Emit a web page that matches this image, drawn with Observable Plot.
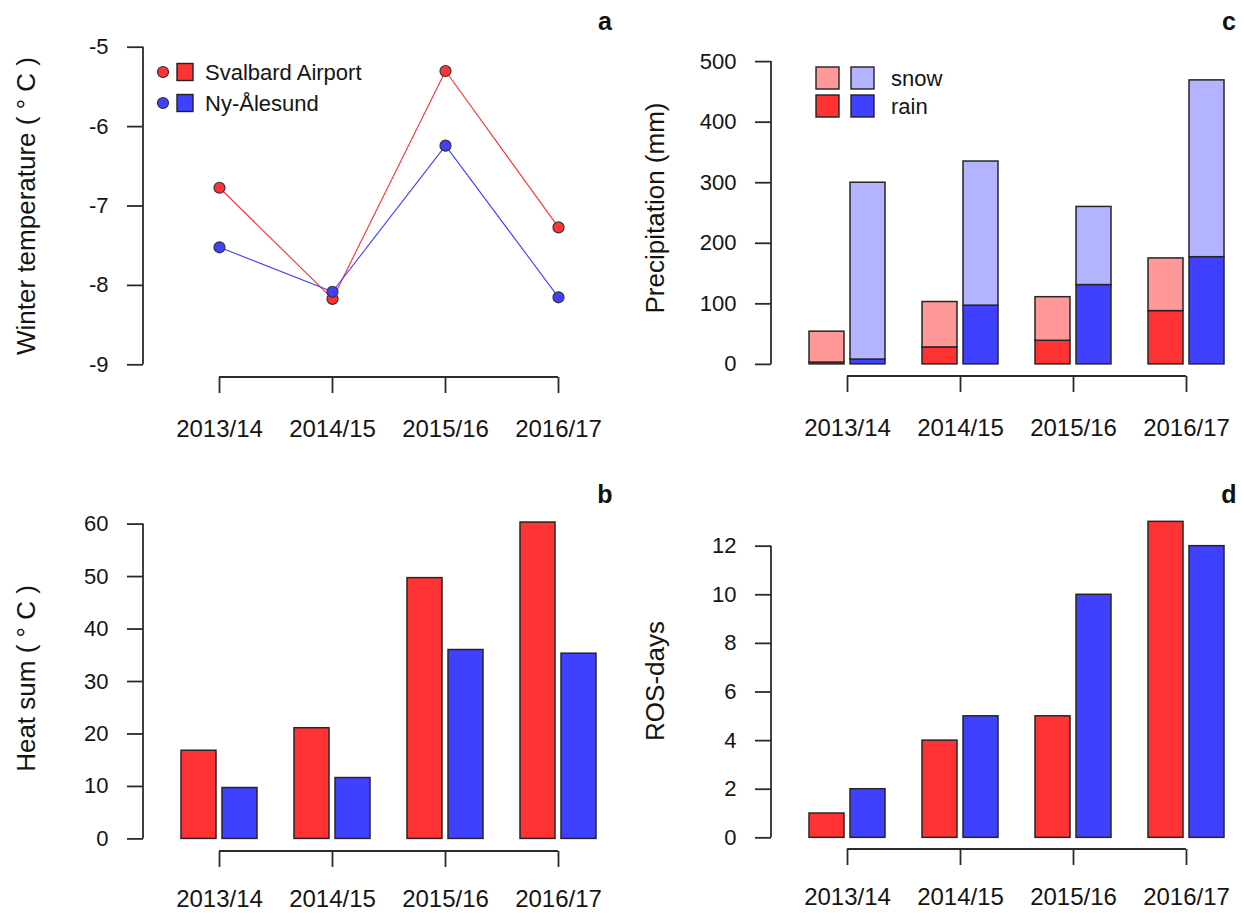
<!DOCTYPE html>
<html>
<head>
<meta charset="utf-8">
<script src="https://cdn.jsdelivr.net/npm/d3@7"></script>
<script src="https://cdn.jsdelivr.net/npm/@observablehq/plot@0.6"></script>
<style>
  html, body { margin: 0; padding: 0; background: #fff; }
  #wrap { position: relative; width: 1244px; height: 913px; overflow: hidden; font-family: "Liberation Sans", Arial, sans-serif; }
  #wrap > * { position: absolute; }
</style>
</head>
<body>
<div id="wrap"></div>
<script>
// ---------------- data ----------------
const seasons = ["2013/14", "2014/15", "2015/16", "2016/17"];
const stations = ["Svalbard Airport", "Ny-Ålesund"];
const precipTypes = ["snow", "rain"];

const tempSvalbard = [-6.77, -8.17, -5.30, -7.27];
const tempNyAlesund = [-7.52, -8.08, -6.24, -8.15];

const heatSvalbard = [16.8, 21.1, 49.7, 60.3];
const heatNyAlesund = [9.7, 11.6, 36.0, 35.3];

const rainSvalbard = [3, 28, 39, 88];
const snowSvalbard = [51, 75, 72, 87];
const rainNyAlesund = [8, 97, 131, 177];
const snowNyAlesund = [292, 238, 129, 292];

const rosSvalbard = [1, 4, 5, 13];
const rosNyAlesund = [2, 5, 10, 12];

const tempTicks = [-9, -8, -7, -6, -5];
const heatTicks = [0, 10, 20, 30, 40, 50, 60];
const precipTicks = [0, 100, 200, 300, 400, 500];
const rosTicks = [0, 2, 4, 6, 8, 10, 12];

const titles = {
  a: "Winter temperature ( ° C )",
  b: "Heat sum ( ° C )",
  c: "Precipitation (mm)",
  d: "ROS-days"
};

// ---------------- style ----------------
const red = "#ff3333", blue = "#4040ff", lightRed = "#ff9999", lightBlue = "#b3b3ff";
const AX = "#2b2b2b", TXT = "#141414", BAR_STROKE = "#262626";
const FONT = "Liberation Sans, Arial, sans-serif";
const W = 622;
const STEP = 113.3;

const wrap = document.getElementById("wrap");
function place(node, left, top) {
  node.style.left = left + "px";
  node.style.top = top + "px";
  wrap.appendChild(node);
}

function xBand(firstCenter) {
  const r0 = firstCenter - STEP / 2;
  return {type: "band", domain: seasons, range: [r0, r0 + STEP * seasons.length],
          paddingInner: 0.33, paddingOuter: 0.165, align: 0.5};
}

// axis lines (R style: y line spans tick range, x line spans first..last tick)
function axisLines(yLo, yHi) {
  return (index, scales, values, dims) => {
    const {x, y} = scales;
    const half = x.bandwidth ? x.bandwidth() / 2 : 0;
    const yb = dims.height - dims.marginBottom;
    const g = d3.create("svg:g").attr("stroke", AX).attr("stroke-width", 1.8).attr("fill", "none");
    g.append("line").attr("x1", dims.marginLeft).attr("x2", dims.marginLeft)
      .attr("y1", y(yLo)).attr("y2", y(yHi));
    g.append("line").attr("x1", x(seasons[0]) + half).attr("x2", x(seasons[seasons.length - 1]) + half)
      .attr("y1", yb).attr("y2", yb);
    return g.node();
  };
}

function commonAxes(ticks, title, titleDx, titleDy, xPad) {
  return [
    Plot.axisY({ticks, tickFormat: d => String(d), tickSize: 16, tickPadding: 19, fontSize: 22, label: null, color: TXT, stroke: AX, strokeWidth: 1.8}),
    Plot.axisX({tickSize: 16, tickPadding: xPad, fontSize: 24, label: null, color: TXT, stroke: AX, strokeWidth: 1.8}),
    axisLines(ticks[0], ticks[ticks.length - 1]),
    Plot.text([title], {text: d => d, frameAnchor: "left", textAnchor: "middle", rotate: -90, dx: titleDx, dy: titleDy, fontSize: 26, fill: TXT})
  ];
}

const style = {fontFamily: FONT, background: "transparent", overflow: "visible", color: TXT};

// ---------------- panel a ----------------
const tempRows = seasons.flatMap((s, i) => [
  {season: s, station: stations[0], value: tempSvalbard[i]},
  {season: s, station: stations[1], value: tempNyAlesund[i]}
]);
const plotA = Plot.plot({
  width: W, height: 456, marginLeft: 143, marginTop: 34, marginBottom: 79, marginRight: 0,
  x: xBand(218),
  y: {domain: [-9.16, -4.84]},
  color: {domain: stations, range: [red, blue]},
  style,
  marks: [
    Plot.line(tempRows, {x: "season", y: "value", stroke: "station", strokeWidth: 1.1}),
    Plot.dot(tempRows, {x: "season", y: "value", fill: "station", stroke: "#333", strokeWidth: 1.2, r: 5.5}),
    ...commonAxes(tempTicks, titles.a, -117, 0, 26)
  ]
});
place(plotA, 0, 0);

// ---------------- panel b ----------------
const heatRowsSv = seasons.map((s, i) => ({season: s, station: stations[0], value: heatSvalbard[i]}));
const heatRowsNy = seasons.map((s, i) => ({season: s, station: stations[1], value: heatNyAlesund[i]}));
const plotB = Plot.plot({
  width: W, height: 457, marginLeft: 143, marginTop: 55, marginBottom: 62, marginRight: 0,
  x: xBand(218),
  y: {domain: [-2.4, 62.4]},
  color: {domain: stations, range: [red, blue]},
  style,
  marks: [
    Plot.barY(heatRowsSv, {x: "season", y: "value", fill: "station", stroke: BAR_STROKE, strokeWidth: 1.5, insetRight: 41}),
    Plot.barY(heatRowsNy, {x: "season", y: "value", fill: "station", stroke: BAR_STROKE, strokeWidth: 1.5, insetLeft: 41}),
    ...commonAxes(heatTicks, titles.b, -117, -3, 22)
  ]
});
place(plotB, 0, 456);

// ---------------- panel c ----------------
const precipRows = [];
seasons.forEach((s, i) => {
  precipRows.push({season: s, station: stations[0], key: stations[0] + " rain", value: rainSvalbard[i]});
  precipRows.push({season: s, station: stations[0], key: stations[0] + " snow", value: snowSvalbard[i]});
  precipRows.push({season: s, station: stations[1], key: stations[1] + " rain", value: rainNyAlesund[i]});
  precipRows.push({season: s, station: stations[1], key: stations[1] + " snow", value: snowNyAlesund[i]});
});
const plotC = Plot.plot({
  width: W, height: 456, marginLeft: 149, marginTop: 49, marginBottom: 80, marginRight: 0,
  x: xBand(224),
  y: {domain: [-20, 520]},
  color: {domain: [stations[0] + " rain", stations[0] + " snow", stations[1] + " rain", stations[1] + " snow"],
          range: [red, lightRed, blue, lightBlue]},
  style,
  marks: [
    Plot.barY(precipRows.filter(d => d.station === stations[0]), {x: "season", y: "value", fill: "key", stroke: BAR_STROKE, strokeWidth: 1.5, insetRight: 41}),
    Plot.barY(precipRows.filter(d => d.station === stations[1]), {x: "season", y: "value", fill: "key", stroke: BAR_STROKE, strokeWidth: 1.5, insetLeft: 41}),
    ...commonAxes(precipTicks, titles.c, -116, -5, 26)
  ]
});
place(plotC, 622, 0);

// ---------------- panel d ----------------
const rosRowsSv = seasons.map((s, i) => ({season: s, station: stations[0], value: rosSvalbard[i]}));
const rosRowsNy = seasons.map((s, i) => ({season: s, station: stations[1], value: rosNyAlesund[i]}));
const plotD = Plot.plot({
  width: W, height: 457, marginLeft: 149, marginTop: 78, marginBottom: 64, marginRight: 0,
  x: xBand(224),
  y: {domain: [-0.48, 12.48]},
  color: {domain: stations, range: [red, blue]},
  style,
  marks: [
    Plot.barY(rosRowsSv, {x: "season", y: "value", fill: "station", stroke: BAR_STROKE, strokeWidth: 1.5, insetRight: 41}),
    Plot.barY(rosRowsNy, {x: "season", y: "value", fill: "station", stroke: BAR_STROKE, strokeWidth: 1.5, insetLeft: 41}),
    ...commonAxes(rosTicks, titles.d, -116, -11, 22)
  ]
});
place(plotD, 622, 456);

// ---------------- legends & panel letters ----------------
const ov = d3.create("svg").attr("width", 1244).attr("height", 913)
  .style("font-family", FONT).style("overflow", "visible");

// legend a
[[stations[0], red, 72], [stations[1], blue, 103]].forEach(([name, col, cy]) => {
  ov.append("circle").attr("cx", 163).attr("cy", cy).attr("r", 5.5).attr("fill", col).attr("stroke", "#333").attr("stroke-width", 1.2);
  ov.append("rect").attr("x", 177).attr("y", cy - 8.5).attr("width", 16).attr("height", 17).attr("fill", col).attr("stroke", "#222").attr("stroke-width", 1.4);
  ov.append("text").attr("x", 205).attr("y", cy).attr("dy", "0.35em").attr("font-size", 22).attr("fill", TXT).text(name);
});

// legend c
[[precipTypes[0], lightRed, lightBlue, 67], [precipTypes[1], red, blue, 95]].forEach(([name, c1, c2, y]) => {
  ov.append("rect").attr("x", 816).attr("y", y).attr("width", 23).attr("height", 22).attr("fill", c1).attr("stroke", "#222").attr("stroke-width", 1.4);
  ov.append("rect").attr("x", 851).attr("y", y).attr("width", 23).attr("height", 22).attr("fill", c2).attr("stroke", "#222").attr("stroke-width", 1.4);
  ov.append("text").attr("x", 891).attr("y", y + 11).attr("dy", "0.35em").attr("font-size", 22).attr("fill", TXT).text(name);
});

// panel letters
[["a", 605, 21], ["c", 1229, 21], ["b", 605, 494], ["d", 1229, 494]].forEach(([t, x, y]) => {
  ov.append("text").attr("x", x).attr("y", y).attr("dy", "0.35em").attr("text-anchor", "middle")
    .attr("font-size", 25).attr("font-weight", "bold").attr("fill", "#111").text(t);
});
place(ov.node(), 0, 0);
</script>
</body>
</html>
